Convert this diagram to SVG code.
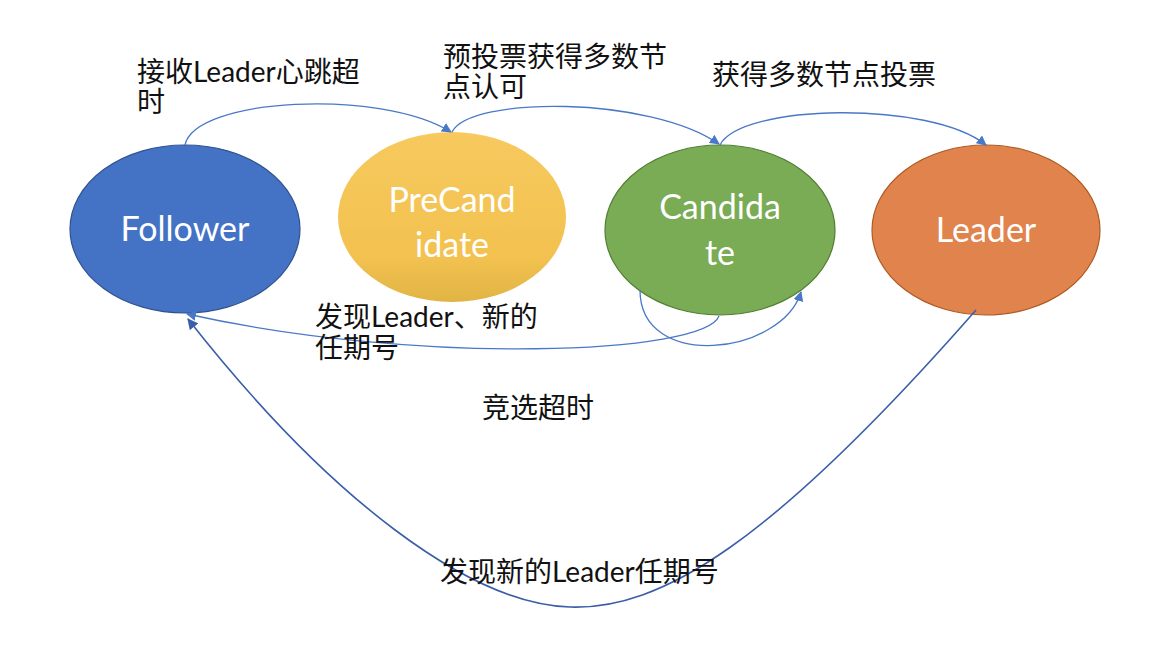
<svg xmlns="http://www.w3.org/2000/svg" width="1153" height="651" viewBox="0 0 1153 651">
<style>
.lbl{font-family:"Lato","Noto Sans CJK SC",sans-serif;font-size:28px;fill:#111}
.node text{font-family:"Lato","Noto Sans CJK SC",sans-serif;font-size:34px;fill:#fff;text-anchor:middle}
.c{fill:none;stroke:#4a78c8;stroke-width:1.3}
.cd{fill:none;stroke:#3a5fa8;stroke-width:1.6}
</style>
<defs>
<marker id="a" viewBox="0 0 10 10" refX="9" refY="5" markerWidth="10" markerHeight="10" markerUnits="userSpaceOnUse" orient="auto"><path d="M0,0 L10,5 L0,10 z" fill="#4a78c8"/></marker>
<marker id="ad" viewBox="0 0 10 10" refX="9" refY="5" markerWidth="11" markerHeight="11" markerUnits="userSpaceOnUse" orient="auto"><path d="M0,0 L10,5 L0,10 z" fill="#3a5fa8"/></marker>
<linearGradient id="gy" x1="0" y1="0" x2="0" y2="1"><stop offset="0" stop-color="#f7c95e"/><stop offset="0.75" stop-color="#f2c14f"/><stop offset="1" stop-color="#e0b444"/></linearGradient>
</defs>
<rect width="1153" height="651" fill="#fff"/>
<g id="follower" class="node"><ellipse cx="185" cy="229" rx="115" ry="84" fill="#4472c4" stroke="#2f528f" stroke-width="1.2"/><text x="185" y="241">Follower</text></g>
<g id="precandidate" class="node"><ellipse cx="452" cy="217" rx="114" ry="85" fill="url(#gy)"/><text x="452" y="212">PreCand</text><text x="452" y="257">idate</text></g>
<g id="candidate" class="node"><ellipse cx="720" cy="230" rx="115" ry="85" fill="#7aab55" stroke="#507e32" stroke-width="1.2"/><text x="720" y="219">Candida</text><text x="720" y="265">te</text></g>
<g id="leader" class="node"><ellipse cx="986" cy="230" rx="114" ry="85" fill="#e0834c" stroke="#ae5a21" stroke-width="1.2"/><text x="986" y="242">Leader</text></g>
<g id="connectors">
<path class="c" d="M185,145 C195,98 380,88 451,132" marker-end="url(#a)"/>
<path class="c" d="M452,132 C470,96 650,96 719,144" marker-end="url(#a)"/>
<path class="c" d="M720,145 C740,104 930,100 986,145" marker-end="url(#a)"/>
<path class="c" d="M719,316 C705,354 420,366 187,314" marker-end="url(#a)"/>
<path class="c" d="M640,290 C640,372 782,355 801,292" marker-end="url(#a)"/>
<path class="cd" d="M976,310 C770,545 660,610 570,607 C470,604 330,500 188,319" marker-end="url(#ad)"/>
</g>
<g id="labels">
<text class="lbl" x="137" y="82">接收Leader心跳超</text>
<text class="lbl" x="137" y="112">时</text>
<text class="lbl" x="443" y="67">预投票获得多数节</text>
<text class="lbl" x="443" y="97">点认可</text>
<text class="lbl" x="712" y="85">获得多数节点投票</text>
<text class="lbl" x="315" y="327">发现Leader、新的</text>
<text class="lbl" x="315" y="358">任期号</text>
<text class="lbl" x="482" y="418">竞选超时</text>
<text class="lbl" x="440" y="582">发现新的Leader任期号</text>
</g>
</svg>
